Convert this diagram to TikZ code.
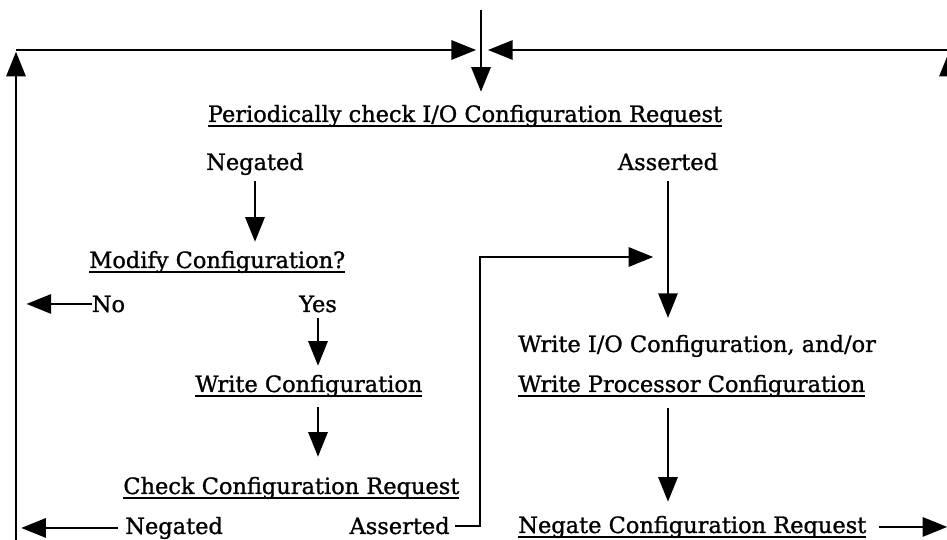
\documentclass[tikz,border=0pt]{standalone}
\usepackage{fontspec}
\setmainfont{DejaVu Serif}[FakeBold=1.1]
\usetikzlibrary{arrows.meta, calc}

\newcommand{\ulbox}[1]{\sbox0{#1}\rlap{\rule[-2.8pt]{\wd0}{0.9pt}}\usebox0}

\begin{document}
\begin{tikzpicture}[
    x=0.02cm, y=-0.02cm,
    lbl/.style={inner sep=2pt, font=\fontsize{12.8}{15}\selectfont},
    arr/.style={-{Triangle[length=14pt, width=11pt]}, line width=1.1pt}
]
\useasboundingbox (0,0) rectangle (947,540);
\clip (0,0) rectangle (947,540);

% loop frame
\coordinate (entry) at (481,10);
\coordinate (merge) at (481,50);
\coordinate (tl) at (16,50);
\coordinate (bl) at (16,545);
\coordinate (tr) at (949,50);
\coordinate (br) at (949,545);
\coordinate (jog) at (480,257);

\node[lbl, anchor=base] (poll) at (465,122) {\ulbox{Periodically check I/O Configuration Request}};
\node[lbl, anchor=base] (negtop) at (255,170) {Negated};
\node[lbl, anchor=base] (asstop) at (668,170) {Asserted};
\node[lbl, anchor=base west] (modify) at (85.5,268) {\ulbox{Modify Configuration?}};
\node[lbl, anchor=base west] (no) at (88,312) {No};
\node[lbl, anchor=base] (yes) at (318,312) {Yes};
\node[lbl, anchor=base west] (writecfg) at (191.5,392) {\ulbox{Write Configuration}};
\node[lbl, anchor=base west] (check) at (119.5,494) {\ulbox{Check Configuration Request}};
\node[lbl, anchor=base west] (negbot) at (121.5,534) {Negated};
\node[lbl, anchor=base east] (assbot) at (453.5,534) {Asserted};
\node[lbl, anchor=base west] (writeio) at (514.5,352) {Write I/O Configuration, and/or};
\node[lbl, anchor=base west] (writeproc) at (514.5,392) {\ulbox{Write Processor Configuration}};
\node[lbl, anchor=base west] (negreq) at (514.5,533) {\ulbox{Negate Configuration Request}};

\draw[arr, shorten >=1pt] (bl) -- (tl);
\draw[arr, shorten >=2.8pt] (tl) -- (merge);
\draw[arr, shorten >=1pt] (br) -- (tr);
\draw[arr, shorten >=4pt] (tr) -- (merge);
\draw[arr, shorten >=5.3pt] (entry) -- (poll.north -| entry);

\draw[arr, shorten <=1pt, shorten >=3pt] (negtop.south) -- (negtop.south |- modify.north);
\draw[arr, shorten <=-2pt, shorten >=6pt] (no.west) -- (no.west -| tl);
\draw[arr, shorten <=1pt, shorten >=3pt] (yes.south) -- (yes.south |- writecfg.north);
\draw[arr, shorten <=3.5pt, shorten >=9.3pt] (writecfg.south -| yes) -- (check.north -| yes);
\draw[arr, shorten <=2pt, shorten >=3pt] (negbot.west) -- (negbot.west -| tl);
\draw[arr, shorten <=1pt, shorten >=8.4pt] (assbot.east) -| (jog) -- (jog -| asstop);

\draw[arr, shorten <=3.7pt, shorten >=7.5pt] (asstop.south) -- (asstop.south |- writeio.north);
\draw[arr, shorten <=4pt, shorten >=5.9pt] (writeproc.south -| asstop) -- (negreq.north -| asstop);
\draw[arr, shorten <=5pt, shorten >=1pt] (negreq.east) -- (negreq.east -| br);

\end{tikzpicture}
\end{document}
